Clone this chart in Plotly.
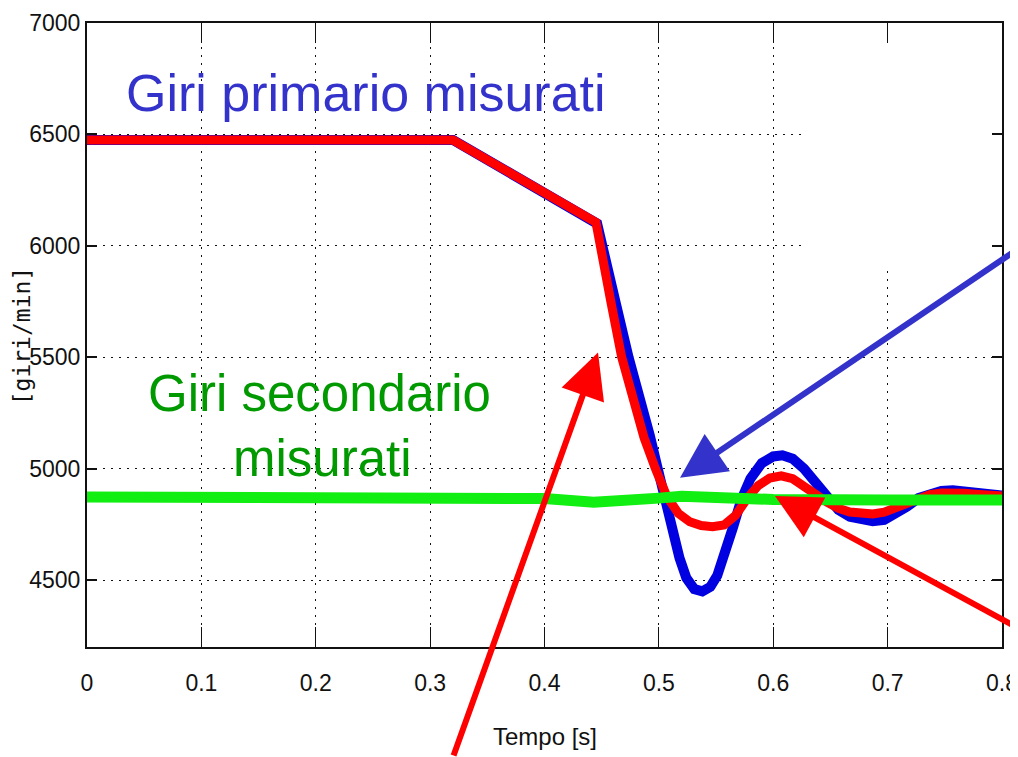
import plotly.graph_objects as go

# ---- data ----
t_blue = [0.000, 0.320, 0.446, 0.451, 0.462, 0.4735, 0.485, 0.492, 0.499, 0.505, 0.512, 0.518,
          0.524, 0.531, 0.538, 0.545, 0.551, 0.558, 0.565, 0.572, 0.580, 0.590, 0.600, 0.608,
          0.617, 0.627, 0.637, 0.647, 0.657, 0.667, 0.677, 0.687, 0.697, 0.707, 0.717, 0.727,
          0.737, 0.747, 0.757, 0.767, 0.777, 0.787, 0.800]
giri_primario = [6475, 6475, 6100, 6000, 5750, 5500, 5300, 5150, 5000, 4860, 4720, 4600,
                 4510, 4460, 4450, 4470, 4520, 4620, 4740, 4860, 4955, 5025, 5055, 5060,
                 5045, 5000, 4935, 4865, 4815, 4785, 4770, 4765, 4770, 4795, 4830, 4868,
                 4890, 4900, 4903, 4900, 4893, 4886, 4880]

t_red = [0.000, 0.320, 0.445, 0.4485, 0.458, 0.4675, 0.4775, 0.487, 0.497, 0.507, 0.517, 0.527,
         0.537, 0.547, 0.557, 0.567, 0.577, 0.587, 0.597, 0.607, 0.617, 0.627, 0.637, 0.647,
         0.657, 0.667, 0.677, 0.687, 0.697, 0.707, 0.717, 0.727, 0.737, 0.747, 0.757, 0.767,
         0.777, 0.787, 0.800]
giri_stimati = [6475, 6475, 6105, 6000, 5750, 5500, 5300, 5140, 5000, 4875, 4800, 4762,
                4745, 4740, 4748, 4790, 4865, 4925, 4958, 4968, 4955, 4925, 4885, 4850,
                4822, 4806, 4799, 4797, 4805, 4825, 4850, 4870, 4884, 4891, 4893, 4890,
                4886, 4882, 4878]

t_green = [0.000, 0.350, 0.400, 0.443, 0.470, 0.500, 0.520, 0.550, 0.600, 0.700, 0.800]
giri_secondario = [4873, 4873, 4866, 4850, 4854, 4868, 4876, 4868, 4862, 4860, 4860]

x_ticks = [0, 0.1, 0.2, 0.3, 0.4, 0.5, 0.6, 0.7, 0.8]
x_tick_labels = ["0", "0.1", "0.2", "0.3", "0.4", "0.5", "0.6", "0.7", "0.8"]
y_ticks = [4500, 5000, 5500, 6000, 6500, 7000]
y_tick_labels = ["4500", "5000", "5500", "6000", "6500", "7000"]

label_primario = "Giri primario misurati"
label_secondario_1 = "Giri secondario"
label_secondario_2 = "misurati"

SANS = "Liberation Sans, Arial, sans-serif"

fig = go.Figure()
fig.add_trace(go.Scatter(x=t_blue, y=giri_primario, mode="lines",
                         line=dict(color="#0000e0", width=10), showlegend=False))
fig.add_trace(go.Scatter(x=t_red, y=giri_stimati, mode="lines",
                         line=dict(color="#ff0000", width=9), showlegend=False))
fig.add_trace(go.Scatter(x=t_green, y=giri_secondario, mode="lines",
                         line=dict(color="#11ee11", width=11), showlegend=False))

# white patch in the top-right corner of the original slide
fig.add_shape(type="rect", xref="x", yref="y", x0=0.626, x1=0.7985, y0=5903, y1=6995,
              fillcolor="white", line=dict(width=0), layer="between")

annotations = [
    dict(x=0.244, y=6685, xref="x", yref="y", text=label_primario, showarrow=False,
         xanchor="center", yanchor="middle",
         font=dict(family=SANS, size=52, color="#3333cc")),
    dict(x=0.2037, y=5336, xref="x", yref="y", text=label_secondario_1, showarrow=False,
         xanchor="center", yanchor="middle",
         font=dict(family=SANS, size=51, color="#009900")),
    dict(x=0.206, y=5044, xref="x", yref="y", text=label_secondario_2, showarrow=False,
         xanchor="center", yanchor="middle",
         font=dict(family=SANS, size=51, color="#009900")),
    # arrows
    dict(x=0.5185, y=4959, xref="x", yref="y", ax=340, ay=-229, text="", showarrow=True,
         arrowhead=2, arrowsize=1.5, arrowwidth=6, arrowcolor="#3333cc"),
    dict(x=0.4468, y=5521, xref="x", yref="y", ax=-145, ay=410, text="", showarrow=True,
         arrowhead=2, arrowsize=1.5, arrowwidth=6, arrowcolor="#ff0000"),
    dict(x=0.6015, y=4878, xref="x", yref="y", ax=250, ay=132, text="", showarrow=True,
         arrowhead=2, arrowsize=1.5, arrowwidth=6, arrowcolor="#ff0000"),
    # axis titles
    dict(x=-0.071, y=0.498, xref="paper", yref="paper", text="[giri/min]", showarrow=False,
         xanchor="center", yanchor="middle", textangle=-90,
         font=dict(family="DejaVu Sans Mono, monospace", size=23, color="#111")),
    dict(x=0.5005, y=-0.144, xref="paper", yref="paper", text="Tempo [s]", showarrow=False,
         xanchor="center", yanchor="middle",
         font=dict(family=SANS, size=24, color="#111")),
]

# the page body has an 8px margin, so the figure is 8px smaller and margins shifted
fig.update_layout(
    width=1010, height=749,
    margin=dict(l=79, r=16, t=15, b=110, autoexpand=False),
    paper_bgcolor="white", plot_bgcolor="white",
    annotations=annotations,
    xaxis=dict(range=[0, 0.8], tickvals=x_ticks, ticktext=x_tick_labels, automargin=False,
               showgrid=True, gridcolor="#111", gridwidth=1, griddash="2px,6px",
               showline=True, linecolor="#111", linewidth=2, mirror="ticks",
               ticks="inside", ticklen=20, tickwidth=1.2, tickcolor="#111",
               ticklabelstandoff=14,
               zeroline=False, tickfont=dict(family=SANS, size=23, color="#111")),
    yaxis=dict(range=[4200, 7000], tickvals=y_ticks, ticktext=y_tick_labels, automargin=False,
               showgrid=True, gridcolor="#111", gridwidth=1, griddash="2px,6px",
               showline=True, linecolor="#111", linewidth=2, mirror="ticks",
               ticks="inside", ticklen=10, tickwidth=1.5, tickcolor="#111",
               zeroline=False, tickfont=dict(family=SANS, size=23, color="#111")),
)

fig.write_html("out.html")
